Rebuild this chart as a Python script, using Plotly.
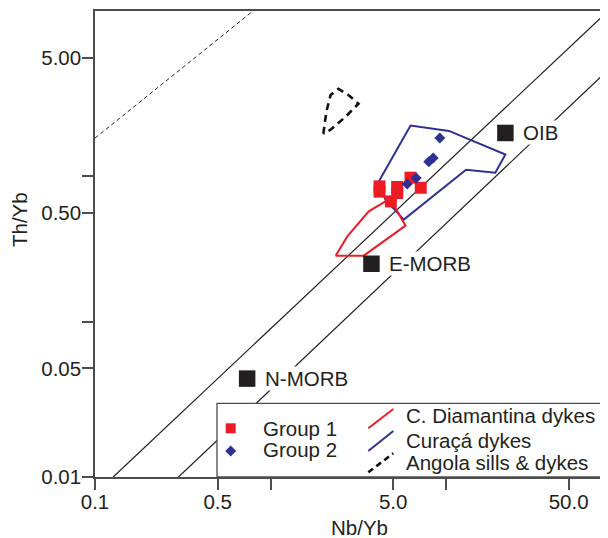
import math
import plotly.graph_objects as go

# ---------------- data ----------------
group1_nb = [4.18, 4.18, 5.27, 5.27, 4.85, 6.28, 7.18]
group1_th = [0.743, 0.687, 0.736, 0.673, 0.595, 0.845, 0.728]

group2_nb = [9.22, 7.98, 8.45, 6.01, 6.76]
group2_th = [1.52, 1.07, 1.13, 0.77, 0.84]

curaca_nb = [4.14, 6.28, 10.4, 21.8, 19.1, 13.0, 5.75, 4.52, 4.14]
curaca_th = [0.80, 1.83, 1.69, 1.19, 0.91, 0.95, 0.454, 0.61, 0.80]

diamantina_nb = [2.35, 2.74, 3.63, 4.52, 5.15, 5.88, 3.40, 2.35]
diamantina_th = [0.266, 0.354, 0.513, 0.595, 0.540, 0.415, 0.266, 0.266]

angola_nb = [2.00, 2.08, 2.20, 2.44, 2.78, 3.17, 2.67, 2.20, 2.00]
angola_th = [1.62, 2.24, 2.88, 3.15, 2.88, 2.53, 2.08, 1.72, 1.62]

ref_names = ["N-MORB", "E-MORB", "OIB"]
ref_nb = [0.736, 3.76, 21.8]
ref_th = [0.043, 0.236, 1.64]

array_upper_nb = [0.127, 83.8]
array_upper_th = [0.01, 10.0]
array_lower_nb = [0.299, 83.8]
array_lower_th = [0.01, 4.17]
dashed_ref_nb = [0.1, 0.795]
dashed_ref_th = [1.52, 10.0]

x_tickvals = [0.1, 0.5, 1, 5, 10, 50]
x_ticktext = ["0.1", "0.5", "", "5.0", "", "50.0"]
y_tickvals = [0.01, 0.05, 0.1, 0.5, 0.87, 5]
y_ticktext = ["0.01", "0.05", "", "0.50", "", "5.00"]

legend_markers = ["Group 1", "Group 2"]
legend_lines = ["C. Diamantina dykes", "Curaçá dykes", "Angola sills & dykes"]

# ---------------- styling ----------------
RED = "#ed1c24"
BLUE = "#2e3192"
INK = "#231f20"
AXIS = "#4d4d4d"
FONT = "Liberation Sans, Arial, Helvetica, sans-serif"
FS = 20.5

OFF = 8  # page body margin
W, H = 608 - OFF, 538 - OFF
L, R, T, B = 95 - OFF, 0, 11 - OFF, 61
PW, PH = W - L - R, H - T - B


def px_x(x):
    # x given in window pixels
    return (x - OFF - L) / PW


def px_y(y):
    return (538 - B - y) / PH


fig = go.Figure()

fig.add_trace(go.Scatter(x=dashed_ref_nb, y=dashed_ref_th, mode="lines",
                         line=dict(color=INK, width=1, dash="4px,3px"), showlegend=False))
fig.add_trace(go.Scatter(x=array_upper_nb, y=array_upper_th, mode="lines",
                         line=dict(color=INK, width=1.2), showlegend=False))
fig.add_trace(go.Scatter(x=array_lower_nb, y=array_lower_th, mode="lines",
                         line=dict(color=INK, width=1.2), showlegend=False))

fig.add_trace(go.Scatter(x=angola_nb, y=angola_th, mode="lines",
                         line=dict(color="#111111", width=2.6, dash="7px,5px"), showlegend=False))
fig.add_trace(go.Scatter(x=curaca_nb, y=curaca_th, mode="lines",
                         line=dict(color=BLUE, width=2), showlegend=False))
fig.add_trace(go.Scatter(x=diamantina_nb, y=diamantina_th, mode="lines",
                         line=dict(color=RED, width=2), showlegend=False))

fig.add_trace(go.Scatter(x=group1_nb, y=group1_th, mode="markers",
                         marker=dict(symbol="square", size=12, color=RED, line=dict(width=0)),
                         showlegend=False))
fig.add_trace(go.Scatter(x=group2_nb, y=group2_th, mode="markers",
                         marker=dict(symbol="diamond", size=8.5, color=BLUE, line=dict(width=0)),
                         showlegend=False))
fig.add_trace(go.Scatter(x=ref_nb, y=ref_th, mode="markers",
                         marker=dict(symbol="square", size=16.5, color=INK, line=dict(width=0)),
                         showlegend=False))

annotations = []
for name, xv, yv in zip(ref_names, ref_nb, ref_th):
    annotations.append(dict(x=math.log10(xv), y=math.log10(yv), xref="x", yref="y",
                            text=name, showarrow=False, xanchor="left", yanchor="middle",
                            xshift=17, font=dict(family=FONT, size=FS, color=INK),
                            bgcolor="white", borderpad=0))

# ---------------- manual legend ----------------
shapes = []
shapes.append(dict(type="rect", xref="paper", yref="paper", layer="above",
                   x0=px_x(217), x1=px_x(620), y0=px_y(477), y1=px_y(403.3),
                   line=dict(color=AXIS, width=1.3), fillcolor="white"))
cx, cy, s = 230.7, 428.3, 5
shapes.append(dict(type="rect", xref="paper", yref="paper", layer="above",
                   x0=px_x(cx - s), x1=px_x(cx + s), y0=px_y(cy + s), y1=px_y(cy - s),
                   line=dict(width=0), fillcolor=RED))
cx, cy, d = 230.7, 451, 5.5
path = "M {} {} L {} {} L {} {} L {} {} Z".format(
    px_x(cx), px_y(cy - d), px_x(cx + d), px_y(cy), px_x(cx), px_y(cy + d), px_x(cx - d), px_y(cy))
shapes.append(dict(type="path", xref="paper", yref="paper", layer="above", path=path,
                   line=dict(width=0), fillcolor=BLUE))
for (y0, y1), col, dash, wd in [((428.3, 409), RED, "solid", 2),
                                ((451, 431), BLUE, "solid", 2),
                                ((472.3, 453.3), "#111111", "6px,4px", 2.6)]:
    shapes.append(dict(type="line", xref="paper", yref="paper", layer="above",
                       x0=px_x(368.3), x1=px_x(393.3), y0=px_y(y0), y1=px_y(y1),
                       line=dict(color=col, width=wd, dash=dash)))

for txt, yc in zip(legend_markers, [428, 449.3]):
    annotations.append(dict(x=px_x(260.7), y=px_y(yc), xref="paper", yref="paper",
                            text=txt, showarrow=False, xanchor="left", yanchor="middle",
                            font=dict(family=FONT, size=FS, color=INK)))
for txt, yc in zip(legend_lines, [415.7, 440, 462.3]):
    annotations.append(dict(x=px_x(404.3), y=px_y(yc), xref="paper", yref="paper",
                            text=txt, showarrow=False, xanchor="left", yanchor="middle",
                            font=dict(family=FONT, size=FS, color=INK)))

annotations.append(dict(x=px_x(359), y=px_y(527), xref="paper", yref="paper", text="Nb/Yb",
                        showarrow=False, xanchor="center", yanchor="middle",
                        font=dict(family=FONT, size=FS, color=INK)))
annotations.append(dict(x=px_x(20), y=px_y(220), xref="paper", yref="paper", text="Th/Yb",
                        showarrow=False, xanchor="center", yanchor="middle", textangle=-90,
                        font=dict(family=FONT, size=FS, color=INK)))

fig.update_layout(
    width=W, height=H,
    margin=dict(l=L, r=R, t=T, b=B, autoexpand=False),
    paper_bgcolor="white", plot_bgcolor="white",
    showlegend=False,
    shapes=shapes, annotations=annotations,
    font=dict(family=FONT, size=FS, color=INK),
)
fig.update_xaxes(type="log", range=[-1, -1 + PW / 175.5], showgrid=False, zeroline=False,
                 automargin=False,
                 showline=True, linecolor=AXIS, linewidth=1.5, mirror=True,
                 ticks="outside", ticklen=11, tickwidth=1.5, tickcolor=AXIS,
                 ticklabelstandoff=-5,
                 tickvals=x_tickvals, ticktext=x_ticktext,
                 tickfont=dict(family=FONT, size=FS, color=INK))
fig.update_yaxes(type="log", range=[-2, 1], showgrid=False, zeroline=False,
                 automargin=False,
                 showline=True, linecolor=AXIS, linewidth=1.5,
                 ticks="outside", ticklen=11, tickwidth=1.5, tickcolor=AXIS,
                 ticklabelstandoff=-3,
                 tickvals=y_tickvals, ticktext=y_ticktext,
                 tickfont=dict(family=FONT, size=FS, color=INK))

fig.write_html("out.html")
